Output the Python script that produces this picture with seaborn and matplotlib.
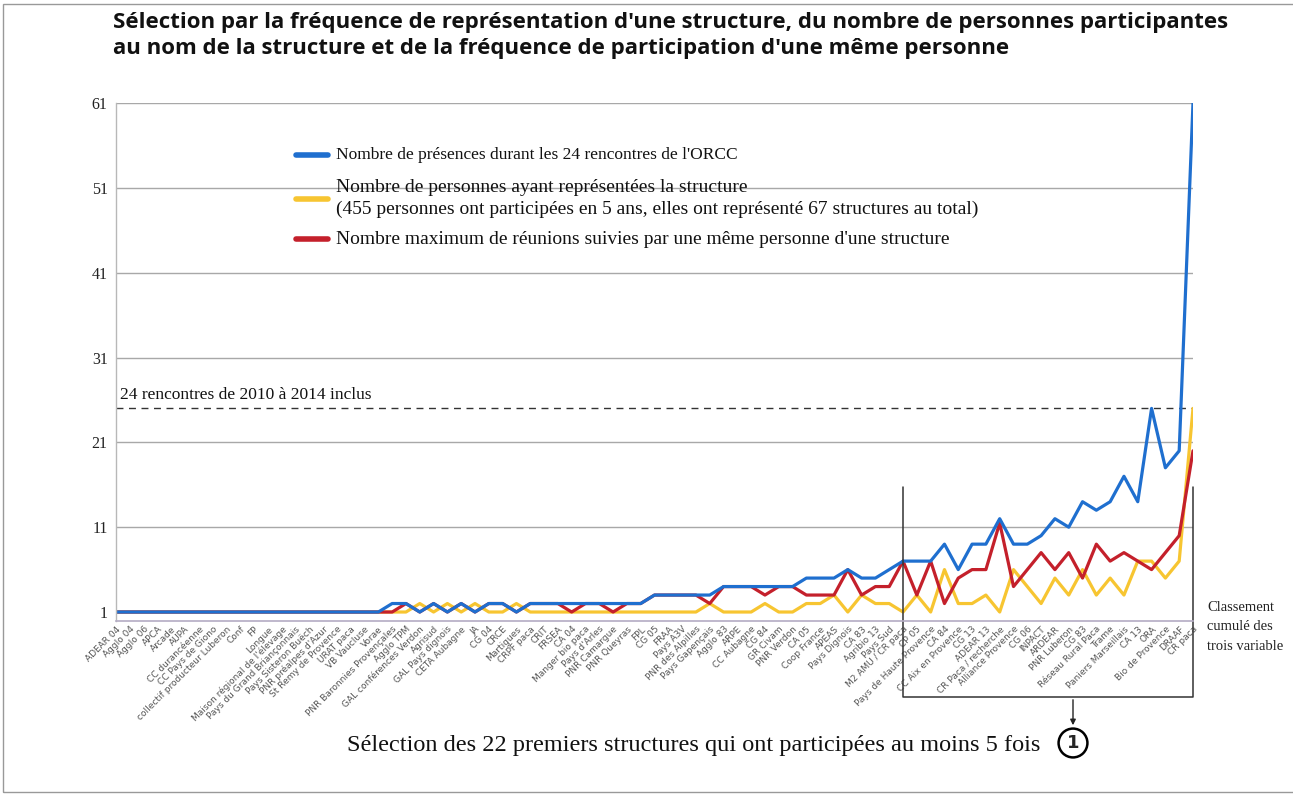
import numpy as np
import pandas as pd
import matplotlib
matplotlib.use('Agg')
import matplotlib.pyplot as plt
import matplotlib.transforms as mtransforms
from matplotlib.lines import Line2D
import seaborn as sns

# structures, ordered by cumulated ranking of the three variables
structures = [
    "ADEAR 04", "Agglo 04", "Agglo 06", "APCA", "Arcade", "AUPA", "CC durancéenne",
    "CC Pays de Giono", "collectif producteur Luberon", "Conf", "FP", "Longue",
    "Maison régional de l'élevage", "Pays du Grand Briançonnais", "Pays Sisteron Buëch",
    "PNR préalpes d'Azur", "St Remy de Provence", "URAT paca", "VB Vaucluse", "Vorae",
    "PNR Baronnies Provençales", "Agglo TPM", "GAL conférences Verdon", "Agrisud",
    "GAL Pays dignois", "CETA Aubagne", "JA", "CG 04", "CRCE", "Martigues", "CRPF paca",
    "CRIT", "FRSEA", "CA 04", "Manger bio paca", "Pays d'Arles", "PNR Camargue",
    "PNR Queyras", "FPL", "CG 05", "FRAA", "Pays A3V", "PNR des Alpilles",
    "Pays Gapençais", "Agglo 83", "ARPE", "CC Aubagne", "CG 84", "GR Civam",
    "PNR Verdon", "CA 05", "Coop France", "APEAS", "Pays Dignois", "CA 83",
    "Agribio 13", "Pays Sud", "M2 AMU / CR paca", "CP 05", "Pays de Haute Provence",
    "CA 84", "CC Aix en Provence", "CG 13", "ADEAR 13", "CR Paca / recherche",
    "Alliance Provence", "CG 06", "INPACT", "ARDEAR", "PNR Luberon", "CG 83",
    "Réseau Rural Paca", "Trame", "Paniers Marseillais", "CA 13", "ORA",
    "Bio de Provence", "DRAAF", "CR paca",
]

presences = [1] * 20 + [2, 2, 1, 2, 1, 2, 1, 2, 2, 1] + [2] * 9 + [3] * 5 + [4] * 6 + [
    5, 5, 5, 6, 5, 5, 6, 7, 7, 7, 9, 6, 9, 9, 12, 9, 9, 10, 12, 11, 14, 13, 14, 17, 14,
    25, 18, 20, 61]

personnes = [1] * 22 + [2, 1, 2, 1, 2, 1, 1, 2] + [1] * 13 + [2, 1, 1, 1, 2, 1, 1] + [
    2, 2, 3, 1, 3, 2, 2, 1, 3, 1, 6, 2, 2, 3, 1, 6, 4, 2, 5, 3, 6, 3, 5, 3, 7, 7, 5, 7, 25]

max_reunions = [1] * 21 + [2, 1, 2, 1, 2, 1, 2, 2, 1, 2, 2, 2, 1, 2, 2, 1, 2, 2] + [
    3, 3, 3, 3, 2, 4, 4, 4, 3, 4, 4, 3, 3, 3, 6, 3, 4, 4, 7, 3, 7, 2, 5, 6, 6, 11.5, 4, 6,
    8, 6, 8, 5, 9, 7, 8, 7, 6, 8, 10, 20]

y_ticks = [1, 11, 21, 31, 41, 51, 61]
nb_rencontres = 25
selection_start = 57

lab_presences = "Nombre de présences durant les 24 rencontres de l'ORCC"
lab_personnes = ("Nombre de personnes ayant représentées la structure\n"
                 "(455 personnes ont participées en 5 ans, elles ont représenté 67 structures au total)")
lab_max = "Nombre maximum de réunions suivies par une même personne d'une structure"

df = pd.DataFrame({
    'pos': np.arange(len(structures)),
    'presences': presences,
    'personnes': personnes,
    'max_reunions': max_reunions,
})

c_blue = '#1f6fcf'
c_yellow = '#f7c531'
c_red = '#c4202b'

sns.set_style('white')
plt.rcParams['font.family'] = ['DejaVu Sans']
serif = ['Liberation Serif', 'DejaVu Serif']

fig, ax = plt.subplots(figsize=(12.93, 8.0), dpi=100)
fig.subplots_adjust(left=116 / 1293, right=1193 / 1293, top=1 - 103 / 800, bottom=1 - 620.5 / 800)

sns.lineplot(data=df, x='pos', y='personnes', ax=ax, color=c_yellow, linewidth=2.3)
sns.lineplot(data=df, x='pos', y='max_reunions', ax=ax, color=c_red, linewidth=2.3)
sns.lineplot(data=df, x='pos', y='presences', ax=ax, color=c_blue, linewidth=2.3)

ax.set_xlim(0, len(structures) - 1)
ax.set_ylim(0, 61)
ax.set_yticks(y_ticks)
ax.set_yticklabels([str(t) for t in y_ticks], family=serif, fontsize=11.5, color='#222222')
ax.set_xticks(df['pos'])
ax.set_xticklabels(structures, rotation=45, ha='right', rotation_mode='anchor',
                   fontsize=6.5, color='#555555')
ax.tick_params(axis='both', length=0)
ax.tick_params(axis='y', pad=6)
ax.tick_params(axis='x', pad=3)
ax.set_xlabel('')
ax.set_ylabel('')

ax.grid(axis='y', color='#a8a8a8', linewidth=1)
ax.get_ygridlines()[0].set_visible(False)
ax.set_axisbelow(True)
for side in ['top', 'right']:
    ax.spines[side].set_visible(False)
ax.spines['left'].set_color('#b8b8b8')
ax.spines['bottom'].set_color('#b4acc4')
ax.spines['left'].set_linewidth(1)
ax.spines['bottom'].set_linewidth(1.2)

# 24 meetings reference
ax.axhline(nb_rencontres, color='#333333', linewidth=1, linestyle=(0, (5, 4)), zorder=1)
ax.text(0.3, nb_rencontres + 0.6, '24 rencontres de 2010 à 2014 inclus', family=serif,
        fontsize=12.5, color='#111111', va='bottom', ha='left')

# legend, placed by hand (no frame, grid shows through)
legend_rows = [
    (c_blue, 155, [(lab_presences, 155, 12.5)]),
    (c_yellow, 199, [(lab_personnes.split('\n')[0], 188, 14), (lab_personnes.split('\n')[1], 209, 14)]),
    (c_red, 239, [(lab_max, 239, 14)]),
]
for color, y_handle, lines in legend_rows:
    fig.add_artist(Line2D([296 / 1293, 328 / 1293], [1 - y_handle / 800] * 2,
                          transform=fig.transFigure, color=color, linewidth=4))
    for txt, y_txt, size in lines:
        fig.text(336 / 1293, 1 - y_txt / 800, txt, ha='left', va='center', family=serif,
                 fontsize=size, color='#111111')

# selection box (22 first structures)
trans = mtransforms.blended_transform_factory(ax.transData, fig.transFigure)
box_top = 1 - 487 / 800
box_bot = 1 - 697 / 800
last = len(structures) - 1
ax.plot([selection_start, selection_start, last, last], [box_top, box_bot, box_bot, box_top],
        transform=trans, color='#333333', linewidth=1.1, clip_on=False)

fig.add_artist(matplotlib.patches.FancyArrowPatch(
    (1073 / 1293, box_bot), (1073 / 1293, 1 - 728 / 800), transform=fig.transFigure,
    arrowstyle='-|>', mutation_scale=8, color='#222222', linewidth=1))
fig.text(1073 / 1293, 1 - 743 / 800, '1', ha='center', va='center', fontsize=13,
         fontweight='bold', bbox=dict(boxstyle='circle,pad=0.3', fc='white', ec='black', lw=1.8))
fig.text(694 / 1293, 1 - 746 / 800,
         'Sélection des 22 premiers structures qui ont participées au moins 5 fois',
         ha='center', va='center', family=serif, fontsize=17.5, color='#111111')

fig.text(1207 / 1293, 1 - 601 / 800, 'Classement\ncumulé des\ntrois variable',
         ha='left', va='top', family=serif, fontsize=10.5, linespacing=1.65, color='#222222')

fig.text(113 / 1293, 1 - 12 / 800,
         "Sélection par la fréquence de représentation d'une structure, du nombre de personnes participantes\n"
         "au nom de la structure et de la fréquence de participation d'une même personne",
         ha='left', va='top', family=['Open Sans', 'DejaVu Sans'], fontweight='bold',
         fontsize=16, linespacing=1.3, color='#111111')

fig.add_artist(matplotlib.patches.Rectangle((3 / 1293, 1 - 792 / 800), 1.0, 788 / 800,
                                            transform=fig.transFigure, fill=False,
                                            edgecolor='#999999', linewidth=1))

fig.savefig('out.png', dpi=100, facecolor='white')
